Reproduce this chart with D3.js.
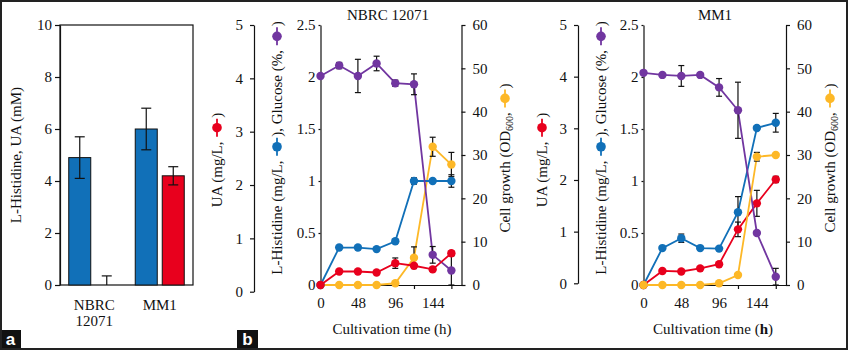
<!DOCTYPE html>
<html lang="en">
<head>
<meta charset="UTF-8">
<title>L-Histidine and UA production</title>
<style>
  body { margin: 0; background: #fff; }
  svg text { font-family: "Liberation Serif", "Times New Roman", serif; fill: #111; }
  .axis path, .axis line { stroke: #111; stroke-width: 1.2; }
  .axis text { font-size: 15px; font-family: "Liberation Serif", "Times New Roman", serif; fill: #111; }
  .tag text { font-family: "Liberation Sans", Arial, sans-serif; font-weight: bold; fill: #fff; }
</style>
<script src="https://d3js.org/d3.v7.min.js"></script>
</head>
<body>
<script>
// panel a: final titres (mM)
const strains = ["NBRC 12071", "MM1"];
const histidineMM = [4.9, 6.0];
const histidineMMErr = [0.8, 0.8];
const uaMM = [0, 4.2];
const uaMMErr = [0.35, 0.35];
const barTicks = [0, 2, 4, 6, 8, 10];

// panel b: time courses
const hours = [0, 24, 48, 72, 96, 120, 144, 168];
const hourLabels = [0, 48, 96, 144];
const hourTicks = [24, 72, 120, 168];
const leftTicks = [0, 0.5, 1, 1.5, 2, 2.5];
const uaTicks = [0, 1, 2, 3, 4, 5];
const odTicks = [0, 10, 20, 30, 40, 50, 60];

const nbrcGlucose = [2.01, 2.11, 2.01, 2.13, 1.94, 1.93, 0.29, 0.14];
const nbrcGlucoseErr = [0.01, 0.03, 0.16, 0.07, 0.03, 0.1, 0.08, 0.14];
const nbrcHis = [0, 0.36, 0.36, 0.345, 0.42, 1.0, 1.0, 1.0];
const nbrcHisErr = [0, 0.01, 0.01, 0.01, 0.02, 0.03, 0.01, 0.06];
const nbrcUA = [0, 0.26, 0.26, 0.24, 0.42, 0.37, 0.30, 0.61];
const nbrcUAErr = [0, 0.02, 0.02, 0.02, 0.1, 0.02, 0.04, 0.04];
const nbrcOD = [0, 0, 0, 0, 0.4, 6.3, 31.9, 27.8];
const nbrcODErr = [0, 0, 0, 0, 0.1, 2.5, 2.2, 2.8];

const mm1Glucose = [2.04, 2.02, 2.01, 2.02, 1.90, 1.68, 0.50, 0.08];
const mm1GlucoseErr = [0.01, 0.01, 0.1, 0.02, 0.085, 0.27, 0.02, 0.08];
const mm1His = [0, 0.355, 0.45, 0.355, 0.35, 0.70, 1.51, 1.56];
const mm1HisErr = [0, 0.01, 0.04, 0.01, 0.01, 0.15, 0.02, 0.09];
const mm1UA = [0, 0.27, 0.26, 0.32, 0.40, 1.07, 1.57, 2.03];
const mm1UAErr = [0, 0.02, 0.02, 0.02, 0.02, 0.14, 0.25, 0.06];
const mm1OD = [0, 0, 0, 0, 0.4, 2.3, 29.6, 30.0];
const mm1ODErr = [0, 0, 0, 0, 0.1, 0.2, 1.0, 0.3];

const colors = { his: "#1170b8", ua: "#e8001d", glucose: "#7136a0", od: "#fdb827" };

const svg = d3.select("body").append("svg")
  .attr("width", 848)
  .attr("height", 350);

svg.append("rect")
  .attr("width", 848).attr("height", 350).attr("fill", "#fff");

// rotated axis title with little line+dot legend keys inside it
function rotatedLabel(x, yc, parts) {
  const g = svg.append("g").attr("transform", `translate(${x},${yc}) rotate(-90)`);
  const inner = g.append("g");
  let pos = 0;
  parts.forEach(p => {
    if (typeof p === "string") {
      const t = inner.append("text")
        .attr("x", pos).attr("y", 0).attr("dy", "0.35em")
        .style("font-size", "15px").style("white-space", "pre")
        .text(p);
      pos += t.node().getComputedTextLength();
    } else if (p.sub) {
      const t = inner.append("text")
        .attr("x", pos).attr("y", 4).attr("dy", "0.35em")
        .style("font-size", "10px")
        .text(p.sub);
      pos += t.node().getComputedTextLength();
    } else if (p.key) {
      inner.append("line")
        .attr("x1", pos + 1).attr("x2", pos + 19)
        .attr("y1", 0).attr("y2", 0)
        .attr("stroke", p.key).attr("stroke-width", 1.8);
      inner.append("circle")
        .attr("cx", pos + 10).attr("cy", 0).attr("r", 4.8)
        .attr("fill", p.key);
      pos += 20;
    }
  });
  inner.attr("transform", `translate(${-pos / 2},0)`);
}

// ---------- panel a ----------
const ay = d3.scaleLinear().domain([0, 10]).range([285, 25]);
const ax = d3.scaleBand().domain(strains).range([60, 193]);
const axIn = d3.scaleBand().domain(["his", "ua"])
  .range([0, ax.bandwidth()])
  .paddingInner(0.185).paddingOuter(0.324);

const barData = [];
strains.forEach((s, i) => {
  barData.push({ strain: s, key: "his", v: histidineMM[i], e: histidineMMErr[i] });
  barData.push({ strain: s, key: "ua", v: uaMM[i], e: uaMMErr[i] });
});

svg.append("rect")
  .attr("x", 60).attr("y", 25).attr("width", 133).attr("height", 260)
  .attr("fill", "none").attr("stroke", "#111").attr("stroke-width", 1.2);

svg.selectAll(".bar")
  .data(barData)
  .enter()
  .append("rect")
  .attr("class", "bar")
  .attr("x", d => ax(d.strain) + axIn(d.key))
  .attr("width", axIn.bandwidth())
  .attr("y", d => ay(d.v))
  .attr("height", d => ay(0) - ay(d.v))
  .attr("fill", d => colors[d.key])
  .attr("stroke", "#111")
  .attr("stroke-width", 1);

barData.forEach(d => {
  const cx = ax(d.strain) + axIn(d.key) + axIn.bandwidth() / 2;
  const lo = Math.max(0, d.v - d.e), hi = d.v + d.e;
  svg.append("line")
    .attr("x1", cx).attr("x2", cx).attr("y1", ay(lo)).attr("y2", ay(hi))
    .attr("stroke", "#111").attr("stroke-width", 1.2);
  svg.append("line")
    .attr("x1", cx - 5).attr("x2", cx + 5).attr("y1", ay(hi)).attr("y2", ay(hi))
    .attr("stroke", "#111").attr("stroke-width", 1.2);
  if (d.v - d.e >= 0) {
    svg.append("line")
      .attr("x1", cx - 5).attr("x2", cx + 5).attr("y1", ay(lo)).attr("y2", ay(lo))
      .attr("stroke", "#111").attr("stroke-width", 1.2);
  }
});

svg.append("g")
  .attr("class", "axis")
  .attr("transform", "translate(60,0)")
  .call(d3.axisLeft(ay).tickValues(barTicks).tickSize(5).tickPadding(3).tickSizeOuter(0));

rotatedLabel(16, 155, ["L-Histidine, UA (mM)"]);

strains.forEach(s => {
  const lines = s.split(" ");
  lines.forEach((ln, j) => {
    svg.append("text")
      .attr("x", ax(s) + ax.bandwidth() / 2 + (lines.length > 1 ? 1 : 0))
      .attr("y", 310 + j * 16)
      .attr("text-anchor", "middle")
      .style("font-size", "15px")
      .text(ln);
  });
});

// ---------- panel b ----------
function drawTimePanel(p) {
  const x = d3.scaleLinear().domain([0, 181]).range([p.left, p.right]);
  const yL = d3.scaleLinear().domain([0, 2.5]).range([285, 25]);
  const yUA = d3.scaleLinear().domain([0, 5]).range([285, 25]);
  const yUAaxis = d3.scaleLinear().domain([0, 5]).range(p.uaRange);
  const yOD = d3.scaleLinear().domain([0, 60]).range([285, 25]);

  svg.append("g").attr("class", "axis")
    .attr("transform", `translate(${p.uaAxisX},0)`)
    .call(d3.axisLeft(yUAaxis).tickValues(uaTicks).tickFormat(d3.format("")).tickSize(4).tickPadding(7).tickSizeOuter(0));

  svg.append("g").attr("class", "axis")
    .attr("transform", `translate(${p.left},0)`)
    .call(d3.axisLeft(yL).tickValues(leftTicks).tickFormat(d3.format("")).tickSize(2).tickPadding(3).tickSizeOuter(0));

  svg.append("g").attr("class", "axis")
    .attr("transform", `translate(${p.right},0)`)
    .call(d3.axisRight(yOD).tickValues(odTicks).tickSize(4).tickPadding(7).tickSizeOuter(0));

  svg.append("g").attr("class", "axis")
    .attr("transform", "translate(0,285)")
    .call(d3.axisBottom(x).tickValues(hourLabels).tickSize(0).tickPadding(12).tickSizeOuter(0));

  svg.append("g").attr("class", "axis")
    .attr("transform", "translate(0,285)")
    .call(d3.axisBottom(x).tickValues(hourTicks).tickSize(4).tickFormat("").tickSizeOuter(0));

  const series = {
    glucose: { v: p.glucose, e: p.glucoseErr, y: yL },
    his: { v: p.his, e: p.hisErr, y: yL },
    ua: { v: p.ua, e: p.uaErr, y: yUA },
    od: { v: p.od, e: p.odErr, y: yOD }
  };

  p.order.forEach(k => {
    const s = series[k];
    const pts = hours.map((h, i) => ({ h: h, v: s.v[i], e: s.e[i] }));
    const line = d3.line().x(d => x(d.h)).y(d => s.y(d.v));
    svg.append("path")
      .datum(pts)
      .attr("d", line)
      .attr("fill", "none")
      .attr("stroke", colors[k])
      .attr("stroke-width", 1.8);
    pts.filter(d => d.e > 0).forEach(d => {
      const cx = x(d.h);
      const lo = Math.max(0, d.v - d.e), hi = d.v + d.e;
      svg.append("line")
        .attr("x1", cx).attr("x2", cx).attr("y1", s.y(lo)).attr("y2", s.y(hi))
        .attr("stroke", "#111").attr("stroke-width", 1.2);
      [lo, hi].forEach(b => {
        svg.append("line")
          .attr("x1", cx - 3).attr("x2", cx + 3).attr("y1", s.y(b)).attr("y2", s.y(b))
          .attr("stroke", "#111").attr("stroke-width", 1.2);
      });
    });
    svg.selectAll(null)
      .data(pts)
      .enter()
      .append("circle")
      .attr("cx", d => x(d.h))
      .attr("cy", d => s.y(d.v))
      .attr("r", 4.2)
      .attr("fill", colors[k]);
  });

  svg.append("text")
    .attr("x", p.titleX).attr("y", 20)
    .attr("text-anchor", "middle")
    .style("font-size", "15px")
    .text(p.title);

  const xt = svg.append("text")
    .attr("x", p.xTitleX).attr("y", 334)
    .attr("text-anchor", "middle")
    .style("font-size", "15px");
  xt.append("tspan").text("Cultivation time (");
  xt.append("tspan").style("font-weight", p.boldH ? "bold" : "normal").text("h");
  xt.append("tspan").text(")");

  rotatedLabel(p.uaLabelX, 160, ["UA (mg/L, ", { key: colors.ua }, ")"]);
  rotatedLabel(p.leftLabelX, 148,
    ["L-Histidine (mg/L, ", { key: colors.his }, "), Glucose (%, ", { key: colors.glucose }, ")"]);
  rotatedLabel(p.odLabelX, 158, ["Cell growth (OD", { sub: "600" }, ", ", { key: colors.od }, ")"]);
}

drawTimePanel({
  title: "NBRC 12071", titleX: 388, xTitleX: 392, boldH: false,
  left: 320.5, right: 461.5, uaAxisX: 254, uaRange: [291.7, 25],
  uaLabelX: 217, leftLabelX: 277, odLabelX: 505,
  glucose: nbrcGlucose, glucoseErr: nbrcGlucoseErr,
  his: nbrcHis, hisErr: nbrcHisErr,
  ua: nbrcUA, uaErr: nbrcUAErr,
  od: nbrcOD, odErr: nbrcODErr,
  order: ["od", "his", "glucose", "ua"]
});

drawTimePanel({
  title: "MM1", titleX: 715, xTitleX: 713, boldH: true,
  left: 643.5, right: 786, uaAxisX: 578, uaRange: [283.3, 25],
  uaLabelX: 542, leftLabelX: 601, odLabelX: 830,
  glucose: mm1Glucose, glucoseErr: mm1GlucoseErr,
  his: mm1His, hisErr: mm1HisErr,
  ua: mm1UA, uaErr: mm1UAErr,
  od: mm1OD, odErr: mm1ODErr,
  order: ["his", "ua", "glucose", "od"]
});

// panel tags and frame
[["a", 0], ["b", 237]].forEach(([t, x0]) => {
  const g = svg.append("g").attr("class", "tag");
  g.append("rect").attr("x", x0).attr("y", 330).attr("width", 21).attr("height", 19).attr("fill", "#111");
  g.append("text").attr("x", x0 + 10.5).attr("y", 345).attr("text-anchor", "middle")
    .style("font-size", "17px").text(t);
});

svg.append("rect")
  .attr("x", 1).attr("y", 1).attr("width", 846).attr("height", 348)
  .attr("fill", "none").attr("stroke", "#222").attr("stroke-width", 2);
</script>
</body>
</html>
